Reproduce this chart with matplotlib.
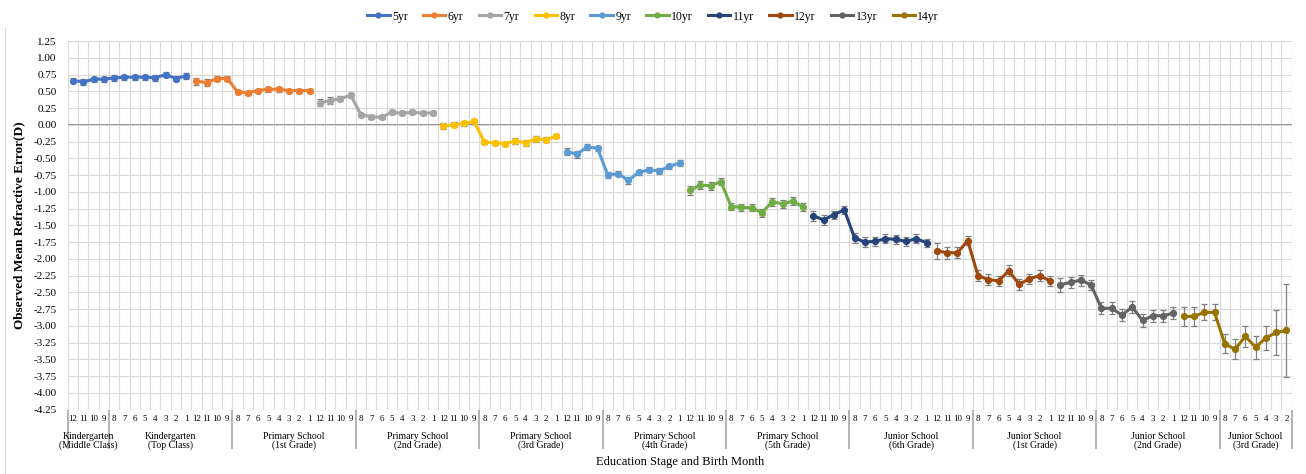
import numpy as np
import matplotlib.pyplot as plt
from matplotlib.ticker import FormatStrFormatter
from matplotlib.lines import Line2D

plt.rcParams['font.family'] = ['Liberation Serif', 'DejaVu Serif']
plt.rcParams['axes.unicode_minus'] = False

# birth-month categories along the x axis, grouped by education stage
stages = ["Kindergarten\n(Middle Class)", "Kindergarten\n(Top Class)",
          "Primary School\n(1st Grade)", "Primary School\n(2nd Grade)",
          "Primary School\n(3rd Grade)", "Primary School\n(4th Grade)",
          "Primary School\n(5th Grade)", "Junior School\n(6th Grade)",
          "Junior School\n(1st Grade)", "Junior School\n(2nd Grade)",
          "Junior School\n(3rd Grade)"]
stage_months = [[12, 11, 10, 9]] + [[8, 7, 6, 5, 4, 3, 2, 1, 12, 11, 10, 9]] * 9 + [[8, 7, 6, 5, 4, 3, 2]]

ages = ["5yr", "6yr", "7yr", "8yr", "9yr", "10yr", "11yr", "12yr", "13yr", "14yr"]
colors = ["#4472C4", "#ED7D31", "#A5A5A5", "#FFC000", "#5B9BD5",
          "#70AD47", "#264478", "#9E480E", "#636363", "#997300"]

ser_5 = [0.66, 0.64, 0.68, 0.68, 0.70, 0.71, 0.71, 0.71, 0.70, 0.75, 0.69, 0.73]
ser_6 = [0.65, 0.63, 0.69, 0.69, 0.49, 0.48, 0.51, 0.53, 0.53, 0.51, 0.51, 0.51]
ser_7 = [0.33, 0.36, 0.39, 0.44, 0.15, 0.12, 0.11, 0.19, 0.17, 0.19, 0.17, 0.18]
ser_8 = [-0.02, 0.00, 0.02, 0.05, -0.26, -0.27, -0.28, -0.24, -0.27, -0.21, -0.22, -0.17]
ser_9 = [-0.40, -0.44, -0.33, -0.35, -0.75, -0.73, -0.83, -0.71, -0.67, -0.69, -0.62, -0.57]
ser_10 = [-0.98, -0.90, -0.91, -0.85, -1.22, -1.23, -1.24, -1.31, -1.15, -1.18, -1.14, -1.23]
ser_11 = [-1.36, -1.42, -1.34, -1.27, -1.69, -1.75, -1.74, -1.70, -1.71, -1.74, -1.70, -1.76]
ser_12 = [-1.88, -1.91, -1.91, -1.73, -2.25, -2.31, -2.33, -2.18, -2.38, -2.30, -2.25, -2.33]
ser_13 = [-2.39, -2.35, -2.32, -2.39, -2.74, -2.74, -2.84, -2.72, -2.92, -2.85, -2.85, -2.81]
ser_14 = [-2.86, -2.86, -2.80, -2.80, -3.27, -3.35, -3.16, -3.32, -3.18, -3.10, -3.07]

err_5 = [0.04, 0.04, 0.04, 0.04, 0.04, 0.04, 0.04, 0.04, 0.05, 0.04, 0.04, 0.04]
err_6 = [0.05, 0.05, 0.04, 0.04, 0.03, 0.03, 0.03, 0.04, 0.04, 0.03, 0.03, 0.03]
err_7 = [0.05, 0.05, 0.04, 0.04, 0.03, 0.03, 0.03, 0.03, 0.03, 0.03, 0.03, 0.03]
err_8 = [0.04, 0.04, 0.04, 0.04, 0.03, 0.03, 0.03, 0.04, 0.04, 0.04, 0.03, 0.03]
err_9 = [0.05, 0.05, 0.04, 0.04, 0.04, 0.04, 0.05, 0.04, 0.04, 0.04, 0.04, 0.04]
err_10 = [0.07, 0.06, 0.06, 0.05, 0.05, 0.05, 0.05, 0.06, 0.06, 0.06, 0.06, 0.06]
err_11 = [0.07, 0.07, 0.06, 0.06, 0.07, 0.07, 0.07, 0.07, 0.07, 0.07, 0.07, 0.06]
err_12 = [0.12, 0.09, 0.08, 0.07, 0.08, 0.08, 0.08, 0.08, 0.08, 0.08, 0.08, 0.07]
err_13 = [0.10, 0.08, 0.08, 0.08, 0.09, 0.09, 0.09, 0.09, 0.10, 0.09, 0.09, 0.09]
err_14 = [0.14, 0.14, 0.12, 0.12, 0.14, 0.15, 0.16, 0.17, 0.18, 0.34, 0.69]

series = [ser_5, ser_6, ser_7, ser_8, ser_9, ser_10, ser_11, ser_12, ser_13, ser_14]
errors = [err_5, err_6, err_7, err_8, err_9, err_10, err_11, err_12, err_13, err_14]

months = [m for grp in stage_months for m in grp]
n = len(months)

fig = plt.figure(figsize=(13.06, 4.74), dpi=100)
ax = fig.add_axes([0.052, 0.136, 0.937, 0.7775])

grid_c = "#d9d9d9"
for k in range(n + 1):
    ax.axvline(k, color=grid_c, lw=0.8, zorder=0)
ax.set_yticks(np.arange(-4.25, 1.26, 0.25))
ax.yaxis.grid(True, color=grid_c, lw=0.8, zorder=0)
ax.axhline(0, color="#808080", lw=1.2, zorder=1)

start = 0
for name, vals, err, c in zip(ages, series, errors, colors):
    x = np.arange(start, start + len(vals)) + 0.5
    ax.errorbar(x, vals, yerr=err, color=c, lw=2.2, marker="o", ms=4.2,
                ecolor="#7f7f7f", elinewidth=0.9, capsize=2.5, capthick=0.9,
                zorder=3)
    start += 12

ax.set_xlim(0, n)
ax.set_ylim(-4.25, 1.25)
ax.yaxis.set_major_formatter(FormatStrFormatter("%.2f"))
ax.tick_params(axis="y", length=0, labelsize=8, pad=8)

ax.set_xticks(np.arange(n) + 0.5)
ax.set_xticklabels([str(m) for m in months], fontsize=6.5)
ax.tick_params(axis="x", which="major", length=0, pad=4)

bounds = np.cumsum([0] + [len(g) for g in stage_months])
ax.set_xticks(bounds, minor=True)
ax.tick_params(axis="x", which="minor", length=28, width=1.2, color="#a6a6a6")

for sp in ax.spines.values():
    sp.set_visible(False)

trans = ax.get_xaxis_transform()
for lab, a, b in zip(stages, bounds[:-1], bounds[1:]):
    ax.text((a + b) / 2, -0.06, lab, transform=trans, ha="center", va="top",
            fontsize=7, linespacing=1.0)

ax.set_xlabel("Education Stage and Birth Month", fontsize=9)
ax.xaxis.set_label_coords(0.5, -0.125)
ax.set_ylabel("Observed Mean Refractive Error(D)", fontsize=9.5,
              fontweight="bold", labelpad=6)

handles = [Line2D([], [], color=c, lw=2.2, marker="o", ms=3.5) for c in colors]
fig.legend(handles, ages, loc="upper center", bbox_to_anchor=(0.5, 1.0),
           ncol=10, frameon=False, fontsize=8.5, handlelength=1.9,
           handletextpad=0.2, columnspacing=1.3)

fig.add_artist(Line2D([0.004, 0.004], [0.0, 0.94], transform=fig.transFigure,
                      color="#d9d9d9", lw=0.8))

fig.savefig("out.png", dpi=100)
